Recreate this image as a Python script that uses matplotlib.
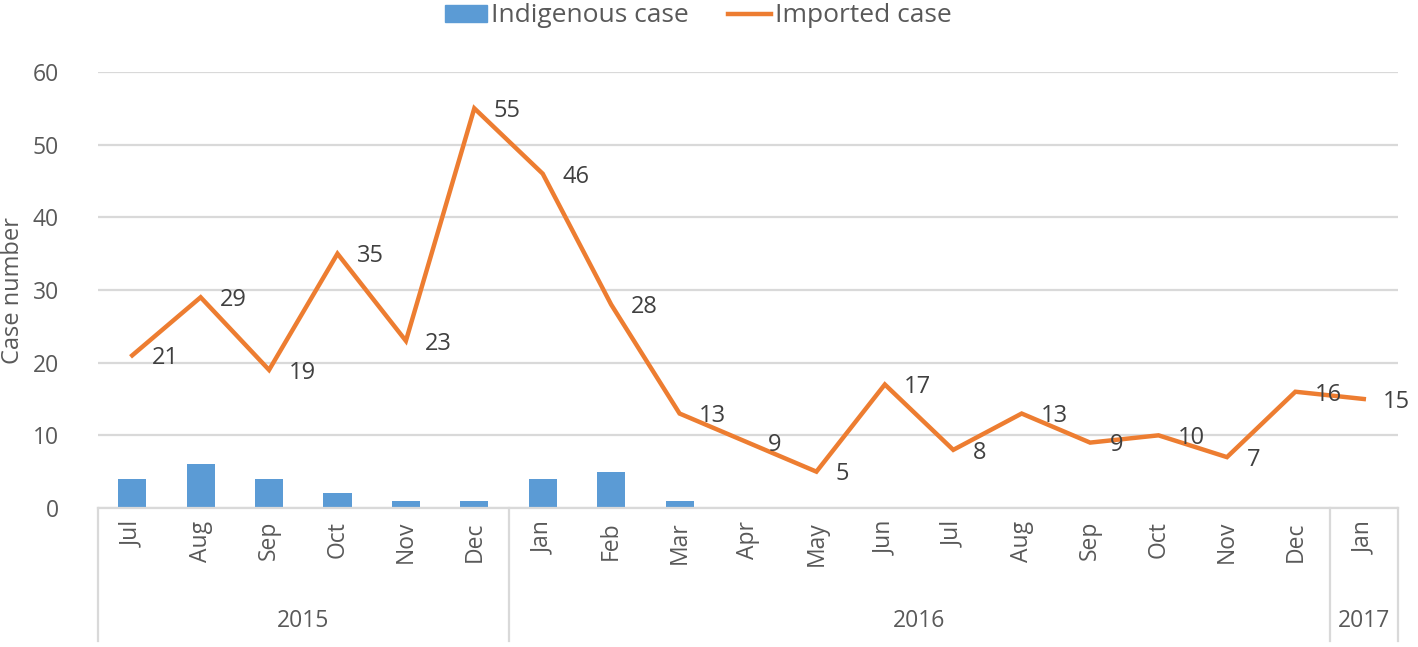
import numpy as np
import matplotlib
matplotlib.use('Agg')
from matplotlib import pyplot as plt
from matplotlib import transforms
from matplotlib.lines import Line2D
from matplotlib.patches import Patch

plt.rcParams['font.family'] = ['Open Sans', 'DejaVu Sans']

months = ['Jul', 'Aug', 'Sep', 'Oct', 'Nov', 'Dec',
          'Jan', 'Feb', 'Mar', 'Apr', 'May', 'Jun', 'Jul', 'Aug', 'Sep', 'Oct', 'Nov', 'Dec',
          'Jan']
years = ['2015', '2016', '2017']
months_per_year = [6, 12, 1]
indigenous = [4, 6, 4, 2, 1, 1, 4, 5, 1, 0, 0, 0, 0, 0, 0, 0, 0, 0, 0]
imported = [21, 29, 19, 35, 23, 55, 46, 28, 13, 9, 5, 17, 8, 13, 9, 10, 7, 16, 15]

blue = '#5B9BD5'
orange = '#ED7D31'
grid_c = '#D9D9D9'
text_c = '#595959'

fig = plt.figure(figsize=(14.18, 6.47), dpi=100)
ax = fig.add_axes([98 / 1418, 139 / 647, 1300 / 1418, 436 / 647])

x = np.arange(len(months))
bars = [xi for xi, v in zip(x, indigenous) if v > 0]
ax.bar(bars, [v for v in indigenous if v > 0], width=0.41, color=blue, zorder=2)
ax.plot(x, imported, color=orange, lw=3.2, zorder=3, solid_joinstyle='miter')

for xi, v in zip(x, imported):
    ax.annotate(str(v), (xi, v), xytext=(14, -2), textcoords='offset points',
                ha='left', va='center', fontsize=17, color='#404040', zorder=4)

ax.set_xlim(-0.5, len(months) - 0.5)
ax.set_ylim(0, 60)
ax.set_yticks(range(0, 61, 10))
ax.yaxis.grid(True, color=grid_c, lw=1.6)
ax.set_axisbelow(True)
for s in ['top', 'right', 'left']:
    ax.spines[s].set_visible(False)
ax.spines['bottom'].set_color(grid_c)
ax.spines['bottom'].set_linewidth(1.6)
ax.tick_params(axis='y', length=0, labelsize=16.5, labelcolor=text_c, pad=28)
ax.set_xticks([])
ax.set_ylabel('Case number', fontsize=17, color=text_c)
ax.yaxis.set_label_coords(-73 / 1300, 0.5)

# two-level category axis
trans = transforms.blended_transform_factory(ax.transData, ax.transAxes)
for xi, m in zip(x, months):
    ax.text(xi, -0.03, m, rotation=90, ha='center', va='top', fontsize=16.5,
            color=text_c, transform=trans)

edges = np.concatenate([[0], np.cumsum(months_per_year)]) - 0.5
for e in edges:
    ax.plot([e, e], [0, -0.305], color=grid_c, lw=1.6, transform=trans, clip_on=False)
for i, y in enumerate(years):
    ax.text((edges[i] + edges[i + 1]) / 2, -0.26, y, ha='center', va='center',
            fontsize=16.5, color=text_c, transform=trans)

handles = [Patch(color=blue, label='Indigenous case'),
           Line2D([], [], color=orange, lw=3.2, label='Imported case')]
fig.legend(handles=handles, loc='center', bbox_to_anchor=(698 / 1418, 1 - 16 / 647),
           ncol=2, frameon=False, fontsize=19, labelcolor=text_c,
           handlelength=1.6, handleheight=0.6, handletextpad=0.16, columnspacing=1.5,
           borderpad=0)

fig.savefig('out.png', dpi=100)
